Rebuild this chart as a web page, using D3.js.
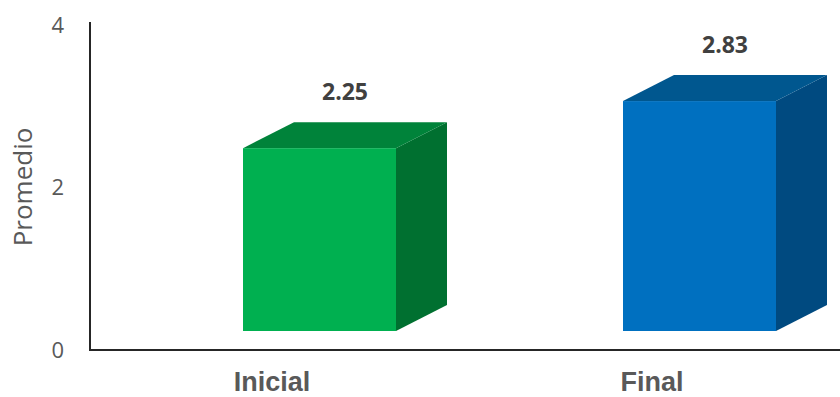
<!DOCTYPE html>
<html>
<head>
<meta charset="utf-8">
<script src="https://cdn.jsdelivr.net/npm/d3@7"></script>
<style>
  html, body { margin: 0; padding: 0; background: #fff; }
  svg { display: block; }
</style>
</head>
<body>
<svg id="chart" width="840" height="397"></svg>
<script>
const categories = ["Inicial", "Final"];
const values = [2.25, 2.83];
const yTicks = [0, 2, 4];
const yLabel = "Promedio";
const frontColors = ["#00B050", "#0070C0"];
const topColors = ["#00833A", "#00578F"];
const sideColors = ["#007030", "#004A80"];

const svg = d3.select("#chart");
const W = 840, H = 397;
const axisX = 90, axisBottom = 350, axisTop = 22;

const y = d3.scaleLinear().domain([0, 4]).range([350, 25]);
const x = d3.scaleBand().domain(categories).range([axisX, 850]).padding(0);

const lift = 19;      // front face floor offset
const depthX = 51, depthY = 26;
const frontLeft = -37, frontW = 153;

// Bars (3D)
const g = svg.append("g");
categories.forEach((c, i) => {
  const cx = x(c) + x.bandwidth() / 2;
  const x0 = cx + frontLeft, x1 = x0 + frontW;
  const yt = y(values[i]) - lift, yb = y(0) - lift;
  g.append("path")
    .attr("d", `M${x1},${yt}L${x1 + depthX},${yt - depthY}L${x1 + depthX},${yb - depthY}L${x1},${yb}Z`)
    .attr("fill", sideColors[i]);
  g.append("path")
    .attr("d", `M${x0},${yt}L${x0 + depthX},${yt - depthY}L${x1 + depthX},${yt - depthY}L${x1},${yt}Z`)
    .attr("fill", topColors[i]);
  g.append("rect")
    .attr("x", x0).attr("y", yt)
    .attr("width", frontW).attr("height", yb - yt)
    .attr("fill", frontColors[i]);
  g.append("text")
    .attr("x", (x0 + x1) / 2 + depthX / 2)
    .attr("y", yt - 48)
    .attr("text-anchor", "middle")
    .attr("font-family", "'Open Sans', sans-serif")
    .attr("font-weight", "bold")
    .attr("font-size", 23)
    .attr("fill", "#404040")
    .text(values[i].toFixed(2));
});

// Y axis
const yAxis = d3.axisLeft(y).tickValues(yTicks).tickSize(0).tickPadding(26).tickFormat(d3.format("d"));
const ya = svg.append("g").attr("transform", `translate(${axisX},0)`).call(yAxis);
ya.select(".domain").remove();
ya.selectAll("text")
  .attr("font-family", "'Open Sans', sans-serif")
  .attr("font-size", 22)
  .attr("fill", "#595959");

svg.append("line")
  .attr("x1", axisX).attr("x2", axisX)
  .attr("y1", axisTop).attr("y2", axisBottom)
  .attr("stroke", "#262626").attr("stroke-width", 2);

// X axis
const xAxis = d3.axisBottom(x).tickSize(0).tickPadding(22);
const xa = svg.append("g").attr("transform", `translate(0,${axisBottom})`).call(xAxis);
xa.select(".domain").remove();
xa.selectAll("text")
  .attr("dx", -8)
  .attr("font-family", "'Liberation Sans', Arial, sans-serif")
  .attr("font-weight", "bold")
  .attr("font-size", 27)
  .attr("fill", "#595959");

svg.append("line")
  .attr("x1", axisX - 1).attr("x2", W)
  .attr("y1", axisBottom).attr("y2", axisBottom)
  .attr("stroke", "#262626").attr("stroke-width", 2);

// Y label
svg.append("text")
  .attr("transform", `translate(32,187) rotate(-90)`)
  .attr("text-anchor", "middle")
  .attr("font-family", "'Open Sans', sans-serif")
  .attr("font-size", 26)
  .attr("fill", "#595959")
  .text(yLabel);
</script>
</body>
</html>
